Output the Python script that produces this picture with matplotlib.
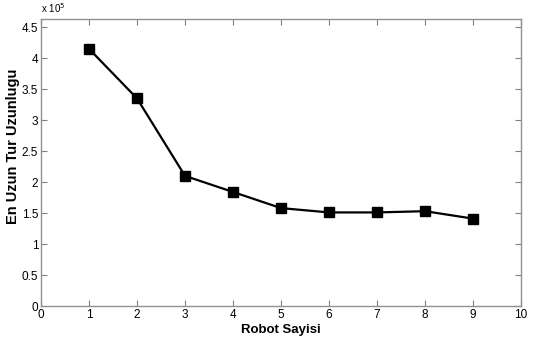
import matplotlib
matplotlib.use('Agg')
import matplotlib.pyplot as plt

# robot count vs longest tour length (x 10^5)
robots = [1, 2, 3, 4, 5, 6, 7, 8, 9]
tour_len = [4.15, 3.35, 2.10, 1.84, 1.58, 1.51, 1.51, 1.53, 1.41]
x_ticks = list(range(0, 11))
y_ticks = [0, 0.5, 1, 1.5, 2, 2.5, 3, 3.5, 4, 4.5]
y_tick_labels = ['0', '0.5', '1', '1.5', '2', '2.5', '3', '3.5', '4', '4.5']

plt.rcParams['font.family'] = ['Liberation Sans', 'DejaVu Sans']

fig = plt.figure(figsize=(5.45, 3.41), dpi=100)
ax = fig.add_axes([0.0752, 0.1026, 0.8808, 0.8415])

ax.plot(robots, tour_len, color='black', linewidth=1.6, marker='s',
        markersize=7, markerfacecolor='black', markeredgecolor='black')

ax.set_xlim(0, 10)
ax.set_ylim(0, 4.63)
ax.set_xticks(x_ticks)
ax.set_yticks(y_ticks)
ax.set_yticklabels(y_tick_labels)

for s in ax.spines.values():
    s.set_color('#909090')
    s.set_linewidth(1.0)
ax.tick_params(direction='in', top=True, right=True, length=4, width=0.8,
               color='#808080', labelsize=8.5, pad=2)

ax.set_xlabel('Robot Sayisi', fontsize=9.5, fontweight='bold', labelpad=2)
ax.set_ylabel('En Uzun Tur Uzunlugu', fontsize=10.5, fontweight='bold')
ax.yaxis.set_label_coords(-0.044, 0.557)

fig.text(0.0752, 0.955, r'x 10$^5$', fontsize=7, ha='left', va='bottom')

plt.savefig('out.png', dpi=100)
